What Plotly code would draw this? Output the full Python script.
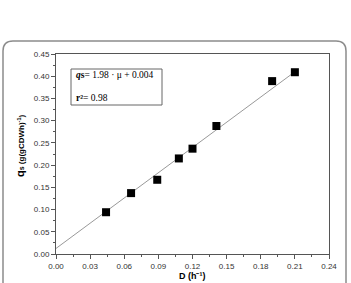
import plotly.graph_objects as go

# data
D = [0.044, 0.066, 0.089, 0.108, 0.120, 0.141, 0.190, 0.210]
qs = [0.094, 0.137, 0.167, 0.215, 0.237, 0.288, 0.389, 0.409]
fit_x = [0.0, 0.210]
fit_y = [0.0125, 0.410]

W, H = 351, 283
L, R, T, B = 56, 22, 54, 29
PW, PH = W - L - R, H - T - B

def px(p):
    return (p - L) / PW

def py(p):
    return (H - B - p) / PH

fig = go.Figure()
fig.add_trace(go.Scatter(x=fit_x, y=fit_y, mode="lines",
                         line=dict(color="#999999", width=1), hoverinfo="skip"))
fig.add_trace(go.Scatter(x=D, y=qs, mode="markers",
                         marker=dict(symbol="square", size=8, color="black")))

axis_common = dict(showline=True, linecolor="#555", linewidth=1, mirror=True,
                   ticks="outside", ticklen=4, tickwidth=1, tickcolor="#555",
                   showgrid=False, zeroline=False,
                   tickfont=dict(family="Liberation Sans, Arial", size=8, color="#333"),
                   tickformat=".2f")
fig.update_xaxes(range=[0, 0.24], dtick=0.03, tick0=0,
                 minor=dict(ticks="outside", ticklen=2, dtick=0.015, tickcolor="#555"),
                 **axis_common)
fig.update_yaxes(range=[0, 0.45], dtick=0.05, tick0=0,
                 minor=dict(ticks="outside", ticklen=2, dtick=0.025, tickcolor="#555"),
                 **axis_common)

# outer rounded frame
r = 10
lx, rx, ty, by = 3, 346, 41, 300
path = (f"M {px(lx)},{py(by)} L {px(lx)},{py(ty + r)} "
        f"Q {px(lx)},{py(ty)} {px(lx + r)},{py(ty)} "
        f"L {px(rx - r)},{py(ty)} Q {px(rx)},{py(ty)} {px(rx)},{py(ty + r)} "
        f"L {px(rx)},{py(by)}")
fig.add_shape(type="path", path=path, xref="paper", yref="paper",
              line=dict(color="#8c8c8c", width=1.5))

# equation box
fig.add_shape(type="rect", xref="paper", yref="paper",
              x0=px(71), x1=px(162), y0=py(105), y1=py(69),
              line=dict(color="#666", width=1), fillcolor="white")
serif = "Liberation Serif, Times New Roman"
fig.add_annotation(xref="paper", yref="paper", x=px(74), y=py(75),
                   xanchor="left", yanchor="middle", showarrow=False,
                   text="<b><i>q</i>s</b>= 1.98 · μ + 0.004",
                   font=dict(family=serif, size=9.5, color="black"))
fig.add_annotation(xref="paper", yref="paper", x=px(74), y=py(98),
                   xanchor="left", yanchor="middle", showarrow=False,
                   text="<b>r²</b>= 0.98",
                   font=dict(family=serif, size=9.5, color="black"))

# axis titles
fig.add_annotation(xref="paper", yref="paper", x=px(20), y=py(146),
                   xanchor="center", yanchor="middle", showarrow=False,
                   textangle=-90,
                   text="<b><span style='font-size:11px'>q</span><span style='font-size:7px'>s</span> (g(gCDWh)<sup>-1</sup>)</b>",
                   font=dict(family="Liberation Sans, Arial", size=8, color="black"))
fig.add_annotation(xref="paper", yref="paper", x=px(192), y=py(283),
                   xanchor="center", yanchor="bottom", showarrow=False,
                   text="<b>D (h⁻¹)</b>",
                   font=dict(family="Liberation Sans, Arial", size=9, color="black"))

fig.update_layout(width=W, height=H, margin=dict(l=L, r=R, t=T, b=B),
                  plot_bgcolor="white", paper_bgcolor="white", showlegend=False)
fig.write_html("out.html")
